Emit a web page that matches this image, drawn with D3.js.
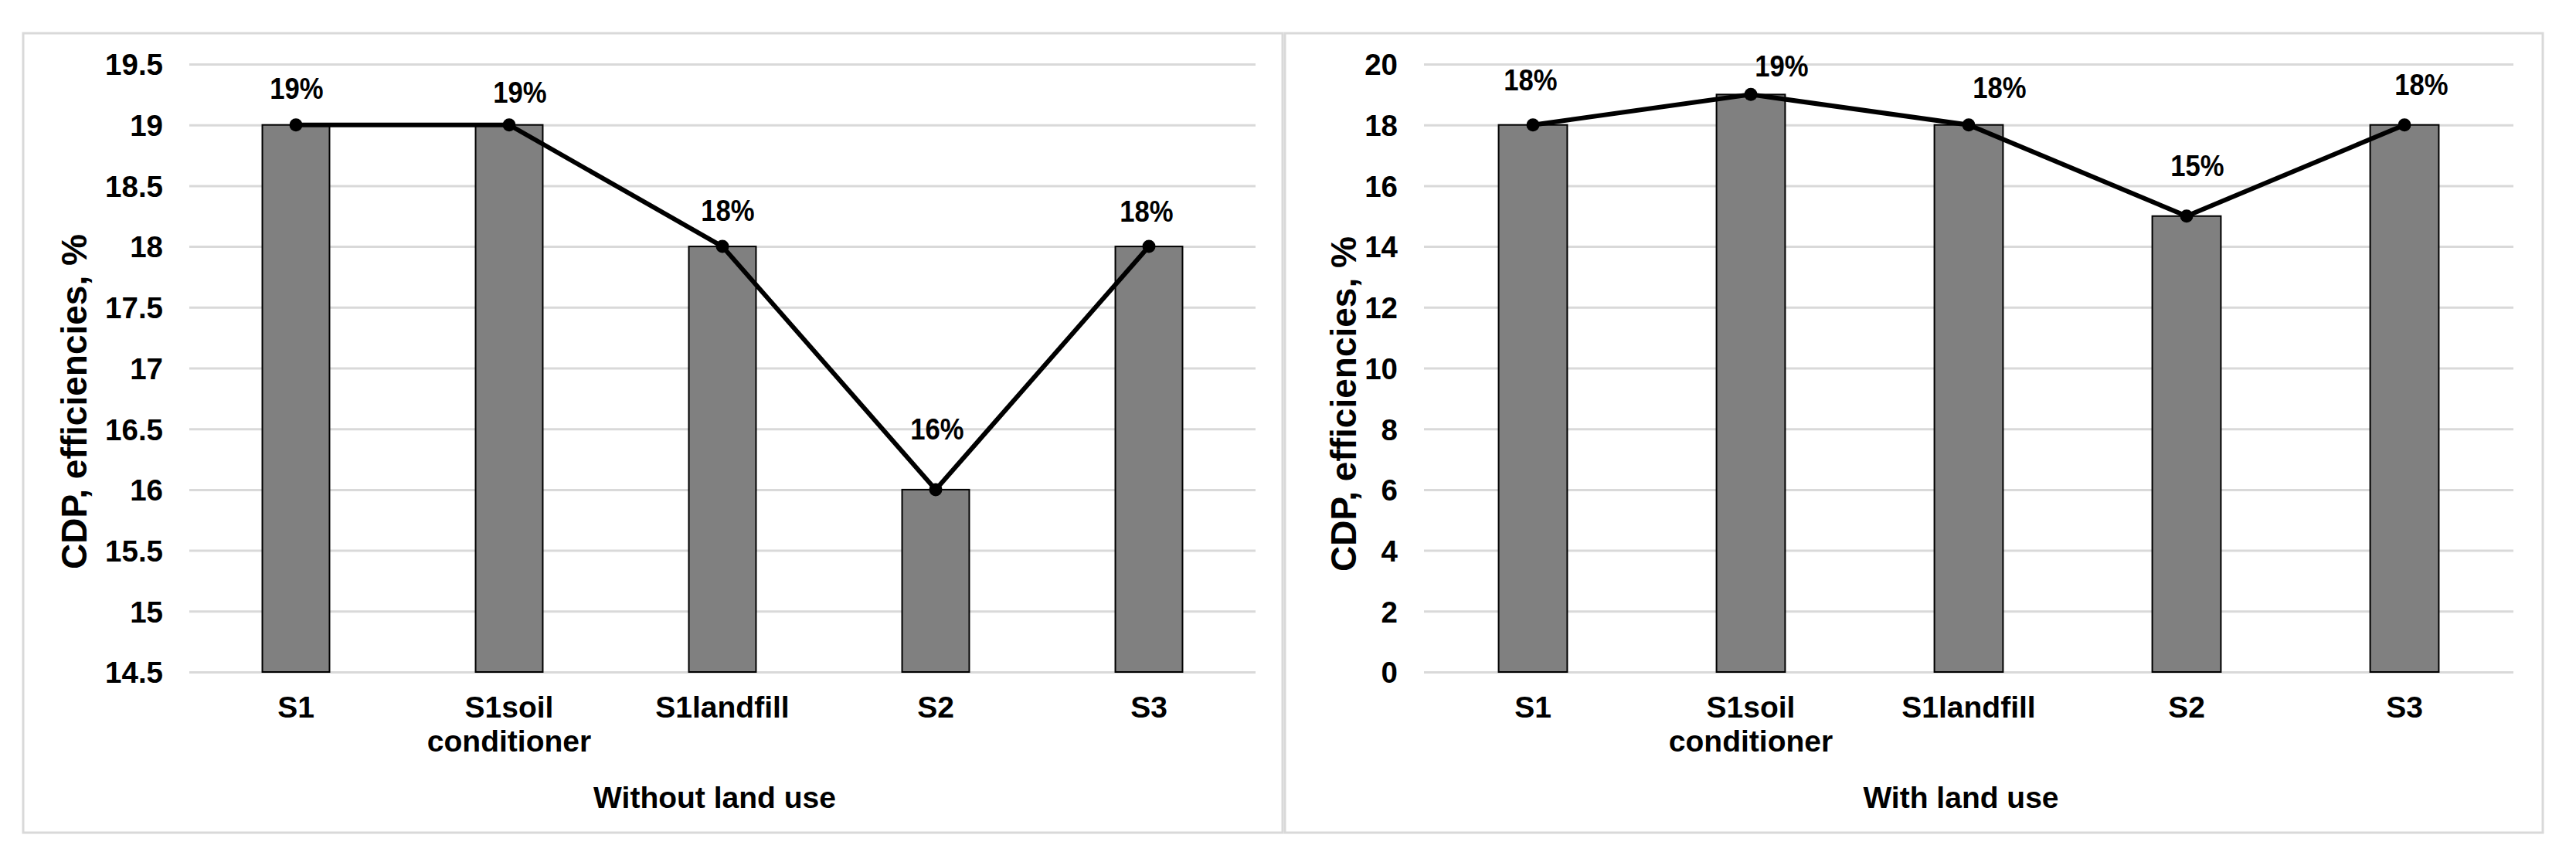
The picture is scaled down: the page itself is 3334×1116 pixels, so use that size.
<!DOCTYPE html>
<meta charset="utf-8">
<html>
<head>
  <script src="https://d3js.org/d3.v7.min.js" charset="utf-8"></script>
</head>

<style>
body {
    margin: 0;
    background-color: white;
}

text {
    font-family: "Liberation Sans", Arial, sans-serif;
    font-weight: bold;
    fill: black;
}

.frame {
    fill: white;
    stroke: #d9d9d9;
    stroke-width: 3;
}

.grid line {
    stroke: #d9d9d9;
    stroke-width: 3;
}

.bar {
    fill: #808080;
    stroke: black;
    stroke-width: 2;
}
</style>

<body>

<div id=container></div>

<script type="text/javascript">

// categories and values
var categories = ["S1", "S1soil conditioner", "S1landfill", "S2", "S3"]
var withoutLandUse = [19, 19, 18, 16, 18]
var withLandUse = [18, 19, 18, 15, 18]

// axis ticks
var withoutTicks = [14.5, 15, 15.5, 16, 16.5, 17, 17.5, 18, 18.5, 19, 19.5]
var withTicks = [0, 2, 4, 6, 8, 10, 12, 14, 16, 18, 20]

var yTitle = "CDP, efficiencies, %"

var width = 3334
var height = 1116

var svg = d3.select("#container")
            .append("svg")
            .attr("width", width)
            .attr("height", height)

// layout of the two panels (frame, plot area, label nudges [dx, dy above point])
var panels = [
  {
    values: withoutLandUse, ticks: withoutTicks, title: "Without land use",
    frame: [30, 43, 1630, 1035],
    plot: {left: 245, right: 1625, top: 83, bottom: 870},
    yTitleX: 112, yTitleY: 520,
    nudge: [[1, 34], [14, 29], [7, 33], [2, 65], [-3, 32]]
  },
  {
    values: withLandUse, ticks: withTicks, title: "With land use",
    frame: [1663, 43, 1628, 1035],
    plot: {left: 1843, right: 3253, top: 83, bottom: 870},
    yTitleX: 1755, yTitleY: 523,
    nudge: [[-3, 45], [40, 23], [40, 35], [14, 52], [22, 39]]
  }
]

panels.forEach(function(p) {

  var g = svg.append("g")

  g.append("rect")
   .attr("class", "frame")
   .attr("x", p.frame[0])
   .attr("y", p.frame[1])
   .attr("width", p.frame[2])
   .attr("height", p.frame[3])

  var x = d3.scaleBand()
            .domain(categories)
            .range([p.plot.left, p.plot.right])
            .paddingInner(0.685)
            .paddingOuter(0.685 / 2)

  var y = d3.scaleLinear()
            .domain(d3.extent(p.ticks))
            .range([p.plot.bottom, p.plot.top])

  // gridlines + tick labels
  var yAxis = d3.axisLeft(y)
                .tickValues(p.ticks)
                .tickFormat((d) => d)
                .tickSize(-(p.plot.right - p.plot.left))
                .tickPadding(34)

  g.append("g")
   .attr("class", "grid")
   .attr("transform", "translate(" + p.plot.left + ",0)")
   .call(yAxis)
   .call((a) => a.select(".domain").remove())
   .selectAll("text")
   .attr("font-size", 38.5)
   .attr("dy", "0.36em")

  // bars
  g.selectAll(".bar")
   .data(p.values)
   .enter()
   .append("rect")
   .attr("class", "bar")
   .attr("x", (d, i) => x(categories[i]))
   .attr("y", (d) => y(d))
   .attr("width", x.bandwidth())
   .attr("height", (d) => y.range()[0] - y(d))

  // category axis
  var xAxis = d3.axisBottom(x).tickSize(0)

  var xa = g.append("g")
            .attr("transform", "translate(0," + p.plot.bottom + ")")
            .call(xAxis)
  xa.select(".domain").remove()
  xa.selectAll("text")
    .attr("font-size", 39)
    .attr("y", 59)
    .attr("dy", null)
    .each(function(d) {
      var t = d3.select(this)
      var words = d.split(" ")
      if (words.length > 1) {
        t.text(null)
        words.forEach(function(w, i) {
          t.append("tspan")
           .attr("x", 0)
           .attr("dy", i == 0 ? 0 : 44)
           .text(w)
        })
      }
    })

  // line + markers
  var line = d3.line()
               .x((d, i) => x(categories[i]) + x.bandwidth() / 2)
               .y((d) => y(d))

  g.append("path")
   .datum(p.values)
   .attr("d", line)
   .attr("fill", "none")
   .attr("stroke", "black")
   .attr("stroke-width", 6)

  g.selectAll(".dot")
   .data(p.values)
   .enter()
   .append("circle")
   .attr("cx", (d, i) => x(categories[i]) + x.bandwidth() / 2)
   .attr("cy", (d) => y(d))
   .attr("r", 8.5)
   .attr("fill", "black")

  // data labels
  g.selectAll(".lbl")
   .data(p.values)
   .enter()
   .append("text")
   .attr("text-anchor", "middle")
   .attr("font-size", 38.5)
   .attr("transform", (d, i) => "translate(" + (x(categories[i]) + x.bandwidth() / 2 + p.nudge[i][0]) + "," + (y(d) - p.nudge[i][1]) + ") scale(0.9,1)")
   .text((d) => d + "%")

  // axis titles
  g.append("text")
   .attr("text-anchor", "middle")
   .attr("font-size", 46)
   .attr("transform", "translate(" + p.yTitleX + "," + p.yTitleY + ") rotate(-90)")
   .text(yTitle)

  g.append("text")
   .attr("text-anchor", "middle")
   .attr("font-size", 39)
   .attr("x", (p.plot.left + p.plot.right) / 2 - 10)
   .attr("y", 1046)
   .text(p.title)
})

</script>

</body>
</html>
